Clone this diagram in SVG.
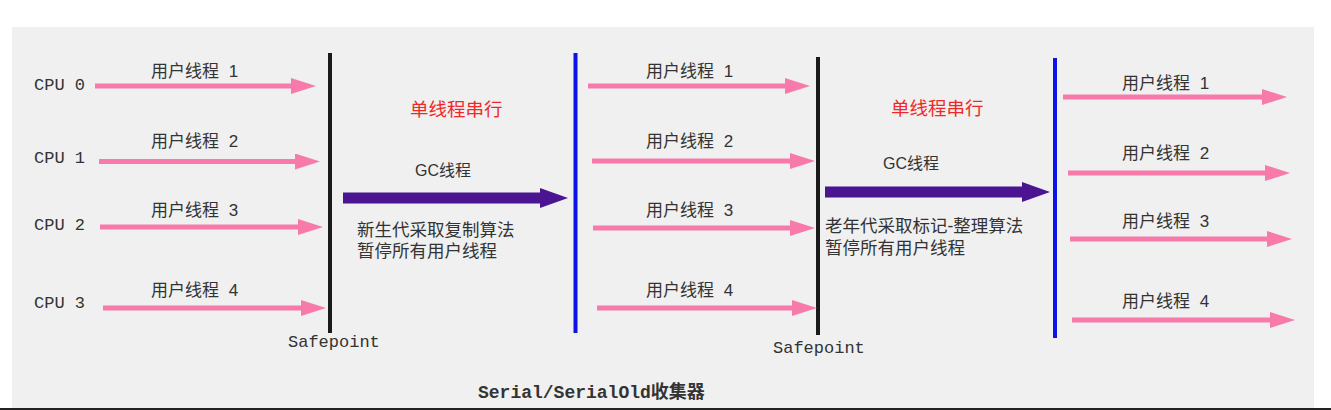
<svg xmlns="http://www.w3.org/2000/svg" width="1331" height="410" viewBox="0 0 1331 410">
<style>
.mono{font-family:"Liberation Mono","DejaVu Sans Mono",monospace;font-size:17px;fill:#333}
.lbl{font-family:"Liberation Sans","Noto Sans CJK SC",sans-serif;font-size:17px;fill:#333;word-spacing:5px}
.note{font-family:"Liberation Sans","Noto Sans CJK SC",sans-serif;font-size:17.5px;fill:#333}
.gc{font-family:"Liberation Sans","Noto Sans CJK SC",sans-serif;font-size:16px;fill:#333}
.red{font-family:"Noto Sans CJK SC",sans-serif;font-size:18.5px;fill:#f02828}
.pink{stroke:#f77aab;stroke-width:5;fill:none;marker-end:url(#ph)}
.purple{stroke:#4b1491;stroke-width:11;fill:none;marker-end:url(#uh)}
.sp{stroke:#1a1a1a;stroke-width:4}
.bl{stroke:#0a14e6;stroke-width:4}
</style>
<defs>
<marker id="ph" markerUnits="userSpaceOnUse" markerWidth="25" markerHeight="16" refX="3" refY="8" orient="auto"><path d="M0,0 L25,8 L0,16 Z" fill="#f77aab"/></marker>
<marker id="uh" markerUnits="userSpaceOnUse" markerWidth="28" markerHeight="20" refX="3" refY="10" orient="auto"><path d="M0,0 L28,10 L0,20 Z" fill="#4b1491"/></marker>
</defs>
<rect x="0" y="0" width="1331" height="410" fill="#ffffff"/>
<rect x="12" y="27" width="1302" height="381" fill="#eff0ef"/>
<rect x="0" y="408" width="1331" height="2" fill="#222"/>

<g id="cpus">
<text class="mono" x="34" y="90">CPU 0</text>
<text class="mono" x="34" y="163">CPU 1</text>
<text class="mono" x="34" y="230">CPU 2</text>
<text class="mono" x="34" y="308">CPU 3</text>
</g>

<g id="safepoint1">
<line class="sp" x1="330" y1="53" x2="330" y2="333"/>
<text class="mono" x="288" y="347">Safepoint</text>
</g>
<g id="resume1"><line class="bl" x1="575.5" y1="53" x2="575.5" y2="333"/></g>
<g id="safepoint2">
<line class="sp" x1="818" y1="57" x2="818" y2="335"/>
<text class="mono" x="773" y="353">Safepoint</text>
</g>
<g id="resume2"><line class="bl" x1="1055" y1="58" x2="1055" y2="338"/></g>

<g id="labels-left">
<text class="lbl" x="151" y="76.5">用户线程 1</text>
<text class="lbl" x="151" y="146.5">用户线程 2</text>
<text class="lbl" x="151" y="215.5">用户线程 3</text>
<text class="lbl" x="151" y="295.5">用户线程 4</text>
</g>
<g id="labels-mid">
<text class="lbl" x="646" y="76.5">用户线程 1</text>
<text class="lbl" x="646" y="146.5">用户线程 2</text>
<text class="lbl" x="646" y="215.5">用户线程 3</text>
<text class="lbl" x="646" y="295.5">用户线程 4</text>
</g>
<g id="labels-right">
<text class="lbl" x="1122" y="88.5">用户线程 1</text>
<text class="lbl" x="1122" y="158.5">用户线程 2</text>
<text class="lbl" x="1122" y="226.5">用户线程 3</text>
<text class="lbl" x="1122" y="306.5">用户线程 4</text>
</g>

<g id="gc1">
<text class="red" x="410" y="116">单线程串行</text>
<text class="gc" x="415" y="175.5">GC线程</text>
<text class="note" x="357" y="235.5">新生代采取复制算法</text>
<text class="note" x="357" y="256.5">暂停所有用户线程</text>
</g>
<g id="gc2">
<text class="red" x="891" y="115">单线程串行</text>
<text class="gc" x="883" y="168.5">GC线程</text>
<text class="note" x="825" y="231.5">老年代采取标记-整理算法</text>
<text class="note" x="825" y="253.5">暂停所有用户线程</text>
</g>

<g id="connectors">
<line class="pink" x1="95" y1="86" x2="294" y2="86"/>
<line class="pink" x1="99" y1="161.5" x2="298" y2="161.5"/>
<line class="pink" x1="100" y1="227" x2="301" y2="227"/>
<line class="pink" x1="103" y1="308" x2="304" y2="308"/>
<line class="pink" x1="588" y1="86" x2="788" y2="86"/>
<line class="pink" x1="592" y1="161" x2="793" y2="161"/>
<line class="pink" x1="593" y1="228" x2="793" y2="228"/>
<line class="pink" x1="597" y1="308" x2="795" y2="308"/>
<line class="pink" x1="1063" y1="97" x2="1265" y2="97"/>
<line class="pink" x1="1068" y1="173" x2="1268" y2="173"/>
<line class="pink" x1="1070" y1="239" x2="1270" y2="239"/>
<line class="pink" x1="1072" y1="320" x2="1273" y2="320"/>
<line class="purple" x1="343" y1="198" x2="543" y2="198"/>
<line class="purple" x1="825" y1="192" x2="1025" y2="192"/>
</g>

<g id="caption">
<text x="478" y="398" style="font-family:'Liberation Mono','Noto Sans CJK SC',monospace;font-size:18px;fill:#333;font-weight:bold">Serial/SerialOld收集器</text>
</g>
</svg>
